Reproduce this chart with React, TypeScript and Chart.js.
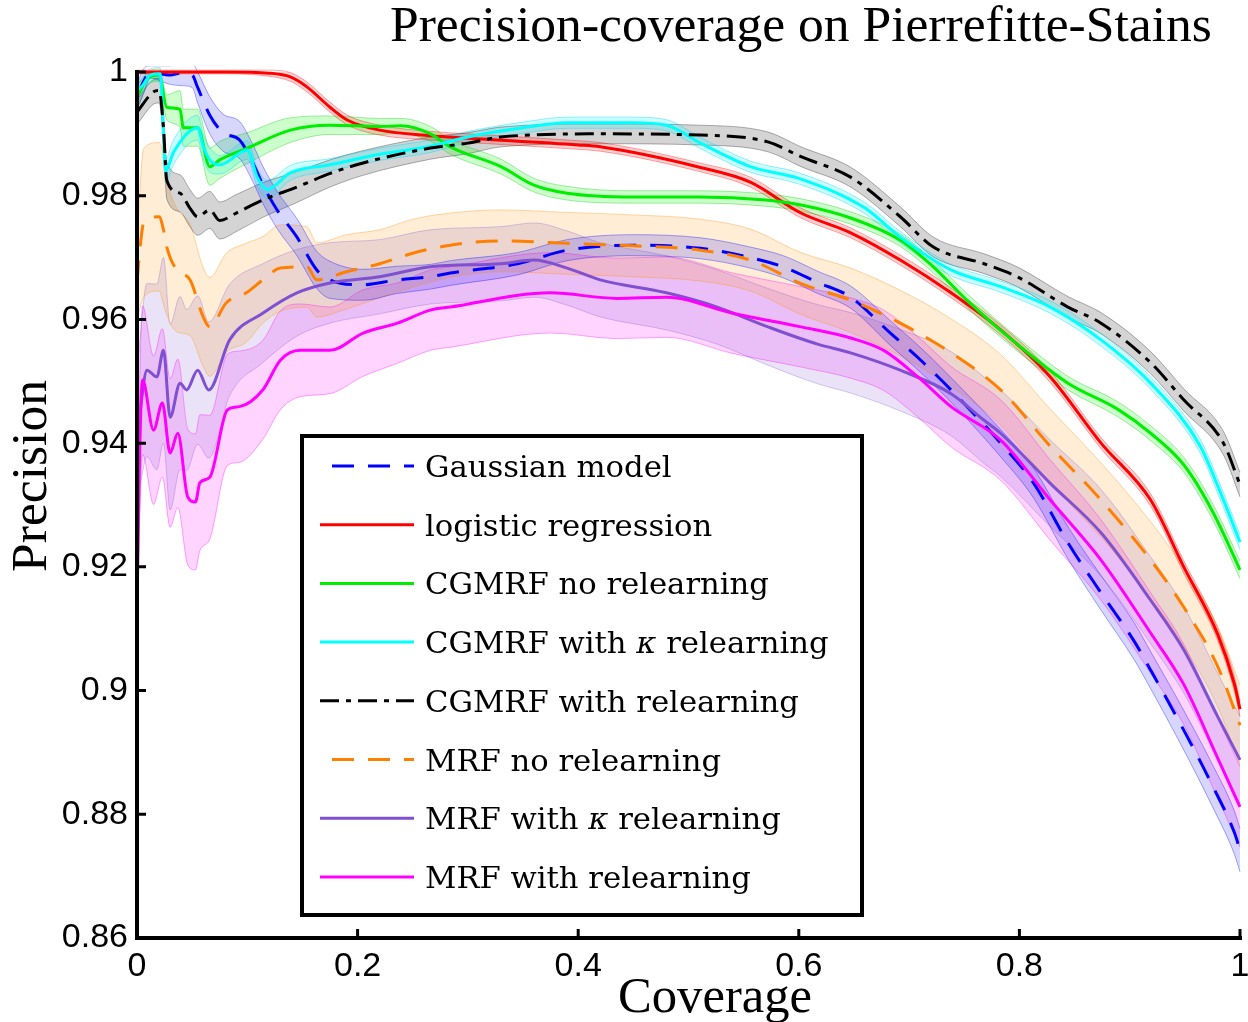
import React, { useEffect, useRef } from 'react';
import { Chart, registerables } from 'chart.js';
Chart.register(...registerables);

const chartTitle = 'Precision-coverage on Pierrefitte-Stains';
const xAxisTitle = 'Coverage';
const yAxisTitle = 'Precision';

const xTickValues = [0, 0.2, 0.4, 0.6, 0.8, 1];
const xTickLabels = ['0', '0.2', '0.4', '0.6', '0.8', '1'];
const yTickValues = [0.86, 0.88, 0.9, 0.92, 0.94, 0.96, 0.98, 1];
const yTickLabels = ['0.86', '0.88', '0.9', '0.92', '0.94', '0.96', '0.98', '1'];

// Gaussian model (blue dashed)
const gaussX = [0, 0.006, 0.012, 0.03, 0.04, 0.05, 0.055, 0.066, 0.078, 0.093, 0.105, 0.114, 0.127, 0.145, 0.163, 0.175, 0.205, 0.236, 0.266, 0.284, 0.345, 0.39, 0.45, 0.511, 0.556, 0.586, 0.617, 0.647, 0.683, 0.713, 0.744, 0.783, 0.813, 0.844, 0.874, 0.904, 0.919, 0.949, 0.974, 0.995, 1.0];
const gaussY = [0.996, 0.9985, 1.0, 0.9995, 0.9998, 0.9995, 0.9975, 0.993, 0.9902, 0.989, 0.9853, 0.9818, 0.9777, 0.9733, 0.968, 0.9664, 0.9656, 0.9664, 0.9669, 0.9675, 0.969, 0.9712, 0.972, 0.9715, 0.970, 0.9685, 0.966, 0.9636, 0.9578, 0.953, 0.9475, 0.940, 0.9335, 0.9239, 0.9158, 0.908, 0.9033, 0.8936, 0.885, 0.877, 0.8742];
const gaussErr = [0.002, 0.002, 0.001, 0.0015, 0.002, 0.002, 0.0025, 0.003, 0.003, 0.003, 0.003, 0.003, 0.003, 0.003, 0.003, 0.003, 0.0025, 0.0022, 0.002, 0.002, 0.0018, 0.0017, 0.0017, 0.0017, 0.0017, 0.0018, 0.0018, 0.0018, 0.002, 0.002, 0.002, 0.0022, 0.0024, 0.0026, 0.0028, 0.003, 0.003, 0.0032, 0.0034, 0.0035, 0.0035];

// logistic regression (red)
const logX = [0, 0.08, 0.12, 0.139, 0.154, 0.175, 0.191, 0.22, 0.266, 0.30, 0.40, 0.42, 0.51, 0.556, 0.602, 0.647, 0.692, 0.738, 0.783, 0.828, 0.874, 0.919, 0.949, 0.98, 0.995, 1.0];
const logY = [1.0, 1.0, 0.9998, 0.9992, 0.9976, 0.9943, 0.9922, 0.9906, 0.9897, 0.9893, 0.9882, 0.9879, 0.9846, 0.9822, 0.9772, 0.974, 0.9696, 0.9643, 0.9583, 0.9507, 0.940, 0.9308, 0.920, 0.909, 0.901, 0.897];
const logErr = [0.0003, 0.0003, 0.0005, 0.0007, 0.0008, 0.0008, 0.0008, 0.0008, 0.0007, 0.0007, 0.0007, 0.0007, 0.0007, 0.0008, 0.0008, 0.0008, 0.0008, 0.0008, 0.0008, 0.0009, 0.0009, 0.001, 0.001, 0.001, 0.0012, 0.0012];

// CGMRF no relearning (green)
const cgX = [0, 0.01, 0.02, 0.027, 0.039, 0.042, 0.055, 0.066, 0.075, 0.10, 0.139, 0.175, 0.22, 0.239, 0.266, 0.284, 0.33, 0.36, 0.39, 0.45, 0.51, 0.57, 0.602, 0.647, 0.692, 0.722, 0.753, 0.798, 0.844, 0.889, 0.919, 0.949, 0.975, 0.995, 1.0];
const cgY = [0.996, 0.999, 0.9995, 0.9943, 0.994, 0.991, 0.991, 0.9847, 0.9858, 0.9877, 0.9906, 0.9914, 0.9912, 0.9913, 0.990, 0.9879, 0.9847, 0.9817, 0.9804, 0.9798, 0.9798, 0.9793, 0.9785, 0.9764, 0.9728, 0.9685, 0.963, 0.956, 0.9497, 0.9455, 0.9416, 0.9365, 0.929, 0.9215, 0.9195];
const cgErr = [0.002, 0.001, 0.001, 0.002, 0.003, 0.003, 0.003, 0.003, 0.003, 0.0025, 0.002, 0.0015, 0.0013, 0.0012, 0.0012, 0.0012, 0.0012, 0.0011, 0.0011, 0.001, 0.001, 0.001, 0.001, 0.001, 0.001, 0.001, 0.0011, 0.0011, 0.0011, 0.0012, 0.0012, 0.0012, 0.0013, 0.0014, 0.0014];

// CGMRF with kappa relearning (cyan)
const ckX = [0, 0.006, 0.012, 0.021, 0.026, 0.033, 0.055, 0.06, 0.066, 0.075, 0.10, 0.109, 0.118, 0.139, 0.175, 0.22, 0.266, 0.30, 0.35, 0.39, 0.45, 0.48, 0.511, 0.556, 0.60, 0.66, 0.692, 0.738, 0.783, 0.828, 0.874, 0.919, 0.964, 0.98, 1.0];
const ckY = [0.997, 0.998, 0.9995, 0.9997, 0.984, 0.987, 0.991, 0.988, 0.9858, 0.985, 0.9874, 0.983, 0.981, 0.9837, 0.985, 0.9867, 0.988, 0.9895, 0.991, 0.9918, 0.9918, 0.9914, 0.9885, 0.9847, 0.9828, 0.978, 0.9733, 0.968, 0.9653, 0.962, 0.9567, 0.9497, 0.9395, 0.933, 0.924];
const ckErr = [0.001, 0.001, 0.001, 0.001, 0.002, 0.002, 0.002, 0.002, 0.002, 0.0015, 0.0015, 0.0015, 0.0015, 0.0012, 0.001, 0.001, 0.001, 0.0009, 0.0009, 0.0009, 0.0009, 0.0009, 0.0009, 0.0009, 0.0009, 0.0009, 0.0009, 0.0009, 0.0009, 0.001, 0.001, 0.001, 0.0011, 0.0012, 0.0012];

// CGMRF with relearning (black dash-dot)
const crX = [0, 0.015, 0.02, 0.024, 0.027, 0.039, 0.048, 0.055, 0.066, 0.075, 0.09, 0.114, 0.145, 0.175, 0.205, 0.266, 0.30, 0.33, 0.42, 0.511, 0.572, 0.602, 0.647, 0.692, 0.722, 0.768, 0.798, 0.844, 0.874, 0.919, 0.949, 0.985, 1.0];
const crY = [0.9935, 0.9968, 0.997, 0.991, 0.9825, 0.9804, 0.978, 0.9766, 0.9777, 0.976, 0.9772, 0.9793, 0.9814, 0.9836, 0.9853, 0.9877, 0.9885, 0.9895, 0.990, 0.9898, 0.9887, 0.9863, 0.983, 0.9766, 0.9717, 0.969, 0.9669, 0.962, 0.9594, 0.953, 0.947, 0.940, 0.9333];
const crErr = [0.002, 0.002, 0.002, 0.0025, 0.003, 0.003, 0.003, 0.003, 0.003, 0.003, 0.003, 0.0028, 0.0025, 0.0022, 0.002, 0.0018, 0.0017, 0.0016, 0.0016, 0.0016, 0.0016, 0.0016, 0.0016, 0.0016, 0.0016, 0.0016, 0.0016, 0.0017, 0.0017, 0.0018, 0.0018, 0.0019, 0.002];

// MRF no relearning (orange dashed)
const mnX = [0, 0.003, 0.006, 0.02, 0.024, 0.027, 0.036, 0.048, 0.06, 0.066, 0.081, 0.099, 0.114, 0.13, 0.154, 0.163, 0.19, 0.22, 0.25, 0.284, 0.33, 0.39, 0.45, 0.511, 0.556, 0.602, 0.647, 0.692, 0.738, 0.783, 0.828, 0.874, 0.919, 0.949, 0.98, 1.0];
const mnY = [0.966, 0.972, 0.9756, 0.9766, 0.9745, 0.9717, 0.968, 0.9664, 0.9604, 0.9588, 0.9627, 0.9643, 0.9664, 0.9683, 0.9685, 0.9664, 0.9677, 0.969, 0.9707, 0.972, 0.9727, 0.9723, 0.9719, 0.9712, 0.9696, 0.9658, 0.9631, 0.9594, 0.9546, 0.9486, 0.9395, 0.9308, 0.9211, 0.9135, 0.9038, 0.8944];
const mnErr = [0.006, 0.01, 0.012, 0.012, 0.012, 0.011, 0.01, 0.009, 0.008, 0.008, 0.008, 0.008, 0.007, 0.007, 0.0065, 0.006, 0.006, 0.0055, 0.0055, 0.0052, 0.005, 0.005, 0.005, 0.005, 0.005, 0.005, 0.0052, 0.0053, 0.0055, 0.0057, 0.006, 0.006, 0.0062, 0.0063, 0.0065, 0.0065];

// MRF with kappa relearning (purple)
const mkX = [0, 0.003, 0.009, 0.018, 0.024, 0.03, 0.039, 0.045, 0.055, 0.065, 0.084, 0.114, 0.145, 0.175, 0.22, 0.266, 0.33, 0.36, 0.39, 0.42, 0.48, 0.526, 0.572, 0.617, 0.647, 0.692, 0.738, 0.768, 0.783, 0.828, 0.874, 0.919, 0.949, 0.98, 1.0];
const mkY = [0.941, 0.9454, 0.9518, 0.9507, 0.955, 0.9442, 0.9497, 0.9486, 0.9518, 0.9486, 0.9567, 0.961, 0.9643, 0.9659, 0.9669, 0.9685, 0.969, 0.9696, 0.9683, 0.9664, 0.9643, 0.962, 0.9588, 0.956, 0.9546, 0.9518, 0.948, 0.9437, 0.9416, 0.9335, 0.9255, 0.9146, 0.9066, 0.8957, 0.8888];
const mkErr = [0.01, 0.012, 0.014, 0.015, 0.015, 0.015, 0.014, 0.013, 0.012, 0.011, 0.009, 0.008, 0.007, 0.0065, 0.006, 0.006, 0.006, 0.006, 0.006, 0.006, 0.006, 0.006, 0.0062, 0.0064, 0.0065, 0.0066, 0.0068, 0.007, 0.007, 0.007, 0.007, 0.007, 0.007, 0.007, 0.007];

// MRF with relearning (magenta)
const mrX = [0, 0.002, 0.005, 0.015, 0.023, 0.03, 0.037, 0.046, 0.053, 0.057, 0.066, 0.082, 0.093, 0.114, 0.13, 0.148, 0.175, 0.205, 0.236, 0.266, 0.284, 0.375, 0.435, 0.48, 0.54, 0.602, 0.647, 0.677, 0.708, 0.738, 0.783, 0.828, 0.874, 0.919, 0.949, 0.98, 1.0];
const mrY = [0.913, 0.935, 0.9502, 0.9421, 0.9465, 0.9384, 0.9416, 0.9313, 0.9305, 0.9336, 0.9345, 0.9454, 0.9459, 0.9486, 0.9534, 0.955, 0.955, 0.9578, 0.9594, 0.9615, 0.962, 0.9643, 0.9634, 0.9636, 0.961, 0.9588, 0.957, 0.955, 0.9507, 0.9459, 0.9405, 0.9308, 0.9211, 0.9093, 0.901, 0.889, 0.8812];
const mrErr = [0.005, 0.01, 0.012, 0.012, 0.012, 0.012, 0.012, 0.011, 0.011, 0.011, 0.01, 0.009, 0.009, 0.008, 0.008, 0.0075, 0.007, 0.007, 0.0065, 0.0065, 0.0065, 0.0065, 0.0065, 0.0065, 0.0065, 0.0065, 0.0065, 0.0065, 0.0065, 0.0065, 0.0065, 0.0065, 0.0065, 0.0065, 0.0065, 0.0065, 0.0065];

const DASH = [22, 14];
const DASHDOT = [19, 7, 5, 7];

const SERIES = [
  { name: ['Gaussian model'], xs: gaussX, ys: gaussY, err: gaussErr, color: '#0000ff', band: 'rgba(0,0,255,0.16)', edge: 'rgba(0,0,255,0.35)', dash: DASH, legendOffset: 24 },
  { name: ['logistic regression'], xs: logX, ys: logY, err: logErr, color: '#ff0000', band: 'rgba(255,0,0,0.18)', edge: 'rgba(255,0,0,0.35)', dash: [], legendOffset: 0 },
  { name: ['CGMRF no relearning'], xs: cgX, ys: cgY, err: cgErr, color: '#00ee00', band: 'rgba(0,255,0,0.2)', edge: 'rgba(0,200,0,0.35)', dash: [], legendOffset: 0 },
  { name: ['CGMRF with ', 'κ', ' relearning'], xs: ckX, ys: ckY, err: ckErr, color: '#00ffff', band: 'rgba(0,255,255,0.2)', edge: 'rgba(0,210,255,0.4)', dash: [], legendOffset: 0 },
  { name: ['CGMRF with relearning'], xs: crX, ys: crY, err: crErr, color: '#000000', band: 'rgba(0,0,0,0.17)', edge: 'rgba(0,0,0,0.3)', dash: DASHDOT, legendOffset: 0 },
  { name: ['MRF no relearning'], xs: mnX, ys: mnY, err: mnErr, color: '#ff8000', band: 'rgba(255,140,0,0.16)', edge: 'rgba(255,140,0,0.35)', dash: DASH, legendOffset: 24 },
  { name: ['MRF with ', 'κ', ' relearning'], xs: mkX, ys: mkY, err: mkErr, color: '#7f50d0', band: 'rgba(127,80,208,0.16)', edge: 'rgba(127,80,208,0.3)', dash: [], legendOffset: 0 },
  { name: ['MRF with relearning'], xs: mrX, ys: mrY, err: mrErr, color: '#ff00ff', band: 'rgba(255,0,255,0.17)', edge: 'rgba(255,0,255,0.35)', dash: [], legendOffset: 0 },
];

const SERIF = '"Liberation Serif", "DejaVu Serif", serif';
const LEGEND_SERIF = '"DejaVu Serif", "Liberation Serif", serif';
const SANS = '"Liberation Sans", Arial, sans-serif';

function fitSize(ctx: CanvasRenderingContext2D, text: string, family: string, target: number) {
  ctx.font = `100px ${family}`;
  return (100 * target) / ctx.measureText(text).width;
}

const decorPlugin = {
  id: 'decor',
  afterDraw(chart: any) {
    const { ctx, chartArea: a, scales } = chart;
    ctx.save();
    // axes
    ctx.strokeStyle = '#000';
    ctx.lineWidth = 4;
    ctx.lineCap = 'square';
    ctx.setLineDash([]);
    ctx.beginPath();
    ctx.moveTo(a.left, a.top);
    ctx.lineTo(a.left, a.bottom);
    ctx.lineTo(a.right, a.bottom);
    ctx.stroke();
    ctx.lineWidth = 3;
    ctx.lineCap = 'butt';
    ctx.beginPath();
    xTickValues.forEach((v) => {
      const px = scales.x.getPixelForValue(v);
      ctx.moveTo(px, a.bottom);
      ctx.lineTo(px, a.bottom - 9);
    });
    yTickValues.forEach((v) => {
      const py = scales.y.getPixelForValue(v);
      ctx.moveTo(a.left, py);
      ctx.lineTo(a.left + 9, py);
    });
    ctx.stroke();

    // title
    ctx.fillStyle = '#000';
    ctx.textBaseline = 'alphabetic';
    ctx.textAlign = 'left';
    let fs = fitSize(ctx, chartTitle, SERIF, 822);
    ctx.font = `${fs}px ${SERIF}`;
    ctx.fillText(chartTitle, 390, 41);

    // x title
    fs = fitSize(ctx, xAxisTitle, SERIF, 194);
    ctx.font = `${fs}px ${SERIF}`;
    ctx.textAlign = 'center';
    ctx.fillText(xAxisTitle, 715, 1012);

    // y title
    fs = fitSize(ctx, yAxisTitle, SERIF, 192);
    ctx.font = `${fs}px ${SERIF}`;
    ctx.save();
    ctx.translate(46, 476);
    ctx.rotate(-Math.PI / 2);
    ctx.textAlign = 'center';
    ctx.fillText(yAxisTitle, 0, 0);
    ctx.restore();

    // legend box
    const L = 302, T = 436, R = 862, B = 915;
    ctx.fillStyle = '#fff';
    ctx.fillRect(L, T, R - L, B - T);
    ctx.strokeStyle = '#000';
    ctx.lineWidth = 4;
    ctx.strokeRect(L, T, R - L, B - T);

    const lfs = fitSize(ctx, 'CGMRF with κ relearning', LEGEND_SERIF, 403);
    SERIES.forEach((s, i) => {
      const y = 466 + i * 58.7;
      ctx.strokeStyle = s.color;
      ctx.lineWidth = 3;
      ctx.setLineDash(s.dash);
      ctx.lineDashOffset = s.legendOffset;
      ctx.beginPath();
      ctx.moveTo(320, y);
      ctx.lineTo(414, y);
      ctx.stroke();
      ctx.setLineDash([]);
      ctx.lineDashOffset = 0;
      ctx.fillStyle = '#000';
      ctx.textAlign = 'left';
      ctx.textBaseline = 'alphabetic';
      let x = 425;
      s.name.forEach((part) => {
        ctx.font = part === 'κ' ? `italic ${lfs}px ${LEGEND_SERIF}` : `${lfs}px ${LEGEND_SERIF}`;
        ctx.fillText(part, x, y + lfs * 0.36);
        x += ctx.measureText(part).width;
      });
    });
    ctx.restore();
  },
};

export default function App() {
  const ref = useRef<HTMLCanvasElement>(null);
  useEffect(() => {
    const canvas = ref.current;
    if (!canvas) return;
    const datasets: any[] = [];
    SERIES.forEach((s) => {
      const lowerIdx = datasets.length;
      datasets.push({
        label: s.name.join('') + ' lower',
        data: s.xs.map((x, k) => ({ x, y: s.ys[k] - s.err[k] })),
        borderColor: s.edge,
        borderWidth: 1,
        pointRadius: 0,
        fill: false,
        order: 50,
        clip: 6,
        cubicInterpolationMode: 'monotone',
      });
      datasets.push({
        label: s.name.join('') + ' upper',
        data: s.xs.map((x, k) => ({ x, y: s.ys[k] + s.err[k] })),
        borderColor: s.edge,
        backgroundColor: s.band,
        borderWidth: 1,
        pointRadius: 0,
        fill: { target: lowerIdx },
        order: 50,
        clip: 6,
        cubicInterpolationMode: 'monotone',
      });
    });
    SERIES.forEach((s, i) => {
      datasets.push({
        label: s.name.join(''),
        data: s.xs.map((x, k) => ({ x, y: s.ys[k] })),
        borderColor: s.color,
        borderWidth: 3,
        borderDash: s.dash,
        pointRadius: 0,
        fill: false,
        order: -i,
        clip: 6,
        cubicInterpolationMode: 'monotone',
      });
    });

    const findLabel = (vals: number[], labels: string[], v: number) => {
      const i = vals.findIndex((t) => Math.abs(t - v) < 1e-9);
      return i >= 0 ? labels[i] : '';
    };

    const chart = new Chart(canvas, {
      type: 'line',
      data: { datasets },
      plugins: [decorPlugin],
      options: {
        animation: false,
        responsive: false,
        devicePixelRatio: 1,
        layout: { padding: { top: 72, right: 8, left: 0, bottom: 0 } },
        plugins: {
          legend: { display: false },
          tooltip: { enabled: false },
          filler: { drawTime: 'beforeDatasetsDraw', propagate: false },
        },
        scales: {
          x: {
            type: 'linear',
            min: 0,
            max: 1,
            afterFit: (s: any) => { s.height = 84; s.paddingRight = 0; s.paddingLeft = 0; },
            afterBuildTicks: (s: any) => { s.ticks = xTickValues.map((v) => ({ value: v })); },
            ticks: {
              callback: (v: any) => findLabel(xTickValues, xTickLabels, Number(v)),
              font: { family: SANS, size: 34 },
              color: '#000',
              padding: 8,
              maxRotation: 0,
              autoSkip: false,
            },
            grid: { display: false, drawTicks: false },
            border: { display: false },
          },
          y: {
            type: 'linear',
            min: 0.86,
            max: 1,
            afterFit: (s: any) => { s.width = 137; s.paddingTop = 0; s.paddingBottom = 0; },
            afterBuildTicks: (s: any) => { s.ticks = yTickValues.map((v) => ({ value: v })); },
            ticks: {
              callback: (v: any) => findLabel(yTickValues, yTickLabels, Number(v)),
              font: { family: SANS, size: 34 },
              color: '#000',
              padding: 9,
              autoSkip: false,
            },
            grid: { display: false, drawTicks: false },
            border: { display: false },
          },
        },
      } as any,
    });
    return () => chart.destroy();
  }, []);

  return (
    <div style={{ position: 'absolute', left: 0, top: 0, width: 1248, height: 1022, background: '#fff' }}>
      <canvas ref={ref} width={1248} height={1022} style={{ display: 'block', width: 1248, height: 1022 }} />
    </div>
  );
}
